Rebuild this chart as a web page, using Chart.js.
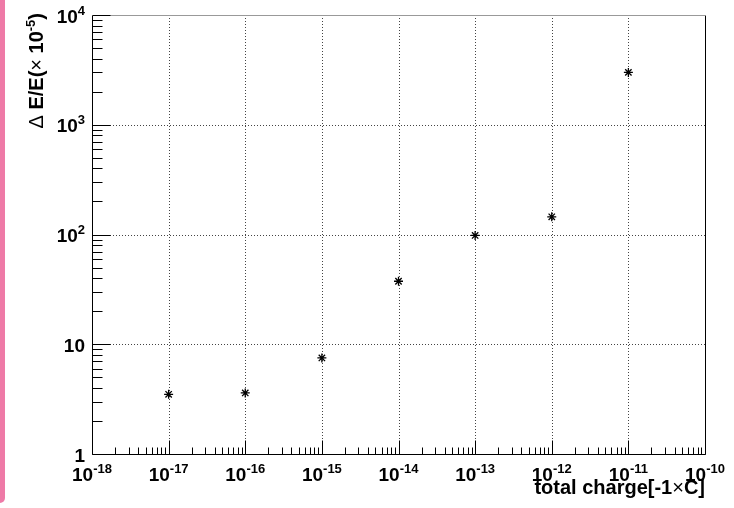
<!DOCTYPE html>
<html>
<head>
<meta charset="utf-8">
<script src="https://cdn.jsdelivr.net/npm/chart.js@4/dist/chart.umd.min.js"></script>
<style>
  html, body { margin: 0; padding: 0; background: #ffffff; }
  #wrap { position: relative; width: 734px; height: 508px; overflow: hidden; }
  #strip {
    position: absolute; left: 0; top: 0; width: 5px; height: 503px;
    background: #ee7aa7; border-bottom-right-radius: 5px;
  }
  canvas { position: absolute; left: 0; top: 0; }
</style>
</head>
<body>
<div id="wrap">
  <canvas id="plot" width="734" height="508"></canvas>
  <div id="strip"></div>
</div>
<script>
// values
const chargeValues = [1e-17, 1e-16, 1e-15, 1e-14, 1e-13, 1e-12, 1e-11];
const deltaEValues = [3.5, 3.6, 7.5, 37.5, 98, 145, 3000];

// decade exponents used for ticks / labels
const xDecades = [-18, -17, -16, -15, -14, -13, -12, -11, -10];
const yDecades = [0, 1, 2, 3, 4];

const FONT = '"Liberation Sans", Arial, Helvetica, sans-serif';
const MAIN_PX = 19;
const EXP_PX = 13;

function px(v) { return Math.round(v) + 0.5; }

// ROOT-like frame: dotted grid, inward ticks, power labels
const rootAxes = {
  id: 'rootAxes',
  beforeDatasetsDraw(chart) {
    const { ctx: c, chartArea: a, scales: { x, y } } = chart;
    c.save();
    c.strokeStyle = '#444';
    c.lineWidth = 1;
    c.setLineDash([1, 2]);
    xDecades.slice(1, -1).forEach(d => {
      const xp = px(x.getPixelForValue(Math.pow(10, d)));
      c.beginPath(); c.moveTo(xp, a.top); c.lineTo(xp, a.bottom); c.stroke();
    });
    yDecades.slice(1, -1).forEach(d => {
      const yp = px(y.getPixelForValue(Math.pow(10, d)));
      c.beginPath(); c.moveTo(a.left, yp); c.lineTo(a.right, yp); c.stroke();
    });
    c.restore();
  },
  afterDraw(chart) {
    const { ctx: c, chartArea: a, scales: { x, y } } = chart;
    c.save();
    c.setLineDash([]);
    c.lineWidth = 1;

    // frame
    c.strokeStyle = '#000';
    c.beginPath();
    c.moveTo(px(a.left), px(a.top)); c.lineTo(px(a.left), px(a.bottom));
    c.lineTo(px(a.right), px(a.bottom)); c.lineTo(px(a.right), px(a.top));
    c.stroke();
    c.strokeStyle = '#999';
    c.beginPath(); c.moveTo(px(a.left), px(a.top)); c.lineTo(px(a.right), px(a.top)); c.stroke();

    // x ticks
    c.strokeStyle = '#000';
    const yb = px(a.bottom);
    xDecades.forEach((d, i) => {
      for (let m = 1; m <= 9; m++) {
        if (i === xDecades.length - 1 && m > 1) break;
        const xp = px(x.getPixelForValue(m * Math.pow(10, d)));
        const len = m === 1 ? 14 : 7;
        c.beginPath(); c.moveTo(xp, yb); c.lineTo(xp, yb - len); c.stroke();
      }
    });
    // y ticks
    const xl = px(a.left);
    yDecades.forEach((d, i) => {
      for (let m = 1; m <= 9; m++) {
        if (i === yDecades.length - 1 && m > 1) break;
        const yp = px(y.getPixelForValue(m * Math.pow(10, d)));
        const len = m === 1 ? 18 : 10;
        c.beginPath(); c.moveTo(xl, yp); c.lineTo(xl + len, yp); c.stroke();
      }
    });

    // labels
    c.fillStyle = '#000';
    c.textBaseline = 'alphabetic';
    c.textAlign = 'left';
    const mainFont = `bold ${MAIN_PX}px ${FONT}`;
    const expFont = `bold ${EXP_PX}px ${FONT}`;

    xDecades.forEach(d => {
      const xp = x.getPixelForValue(Math.pow(10, d));
      c.font = mainFont; const w1 = c.measureText('10').width;
      c.font = expFont; const w2 = c.measureText(String(d)).width;
      const x0 = xp - (w1 + w2) / 2;
      c.font = mainFont; c.fillText('10', x0, 481);
      c.font = expFont; c.fillText(String(d), x0 + w1, 473);
    });

    yDecades.forEach(d => {
      const yp = y.getPixelForValue(Math.pow(10, d));
      const base = yp + 7.5;
      const right = 85;
      if (d === 0 || d === 1) {
        c.font = mainFont;
        const t = d === 0 ? '1' : '10';
        c.fillText(t, right - c.measureText(t).width, base);
      } else {
        c.font = expFont; const w2 = c.measureText(String(d)).width;
        c.font = mainFont; const w1 = c.measureText('10').width;
        c.fillText('10', right - w2 - w1, base);
        c.font = expFont; c.fillText(String(d), right - w2, base - 8);
      }
    });

    // x title, right aligned at the frame edge
    const xParts = [
      ['total charge[-1', `bold 20px ${FONT}`, 0],
      ['\u00d7', `20px ${FONT}`, 0],
      ['C]', `bold 20px ${FONT}`, 0],
    ];
    let tw = 0;
    xParts.forEach(p => { c.font = p[1]; tw += c.measureText(p[0]).width; });
    let cx = a.right - tw;
    xParts.forEach(p => { c.font = p[1]; c.fillText(p[0], cx, 494); cx += c.measureText(p[0]).width; });

    // y title, rotated, ending at the top of the frame
    const yParts = [
      ['\u0394', `20px ${FONT}`, 0],
      [' E/E(', `bold 20px ${FONT}`, 0],
      ['\u00d7', `20px ${FONT}`, 0],
      [' 10', `bold 20px ${FONT}`, 0],
      ['-5', `bold 13px ${FONT}`, -8],
      [')', `bold 20px ${FONT}`, 0],
    ];
    let th = 0;
    yParts.forEach(p => { c.font = p[1]; th += c.measureText(p[0]).width; });
    c.translate(43, 13);
    c.rotate(-Math.PI / 2);
    let cy = -th;
    yParts.forEach(p => { c.font = p[1]; c.fillText(p[0], cy, p[2]); cy += c.measureText(p[0]).width; });

    c.restore();
  }
};

new Chart(document.getElementById('plot').getContext('2d'), {
  type: 'scatter',
  data: {
    datasets: [{
      label: 'dE/E',
      data: chargeValues.map((v, i) => ({ x: v, y: deltaEValues[i] })),
      pointStyle: 'star',
      pointRadius: 4.5,
      borderColor: '#000',
      backgroundColor: '#000',
      borderWidth: 1.3,
    }]
  },
  plugins: [rootAxes],
  options: {
    responsive: false,
    animation: false,
    events: [],
    layout: { padding: { left: 0, top: 15, right: 29, bottom: 0 } },
    plugins: { legend: { display: false }, tooltip: { enabled: false } },
    scales: {
      x: {
        type: 'logarithmic',
        min: 1e-18,
        max: 1e-10,
        grid: { display: false },
        border: { display: false },
        ticks: { display: false },
        afterFit(scale) { scale.height = 54; },
      },
      y: {
        type: 'logarithmic',
        min: 1,
        max: 1e4,
        grid: { display: false },
        border: { display: false },
        ticks: { display: false },
        afterFit(scale) { scale.width = 92; },
      },
    }
  }
});
</script>
</body>
</html>
